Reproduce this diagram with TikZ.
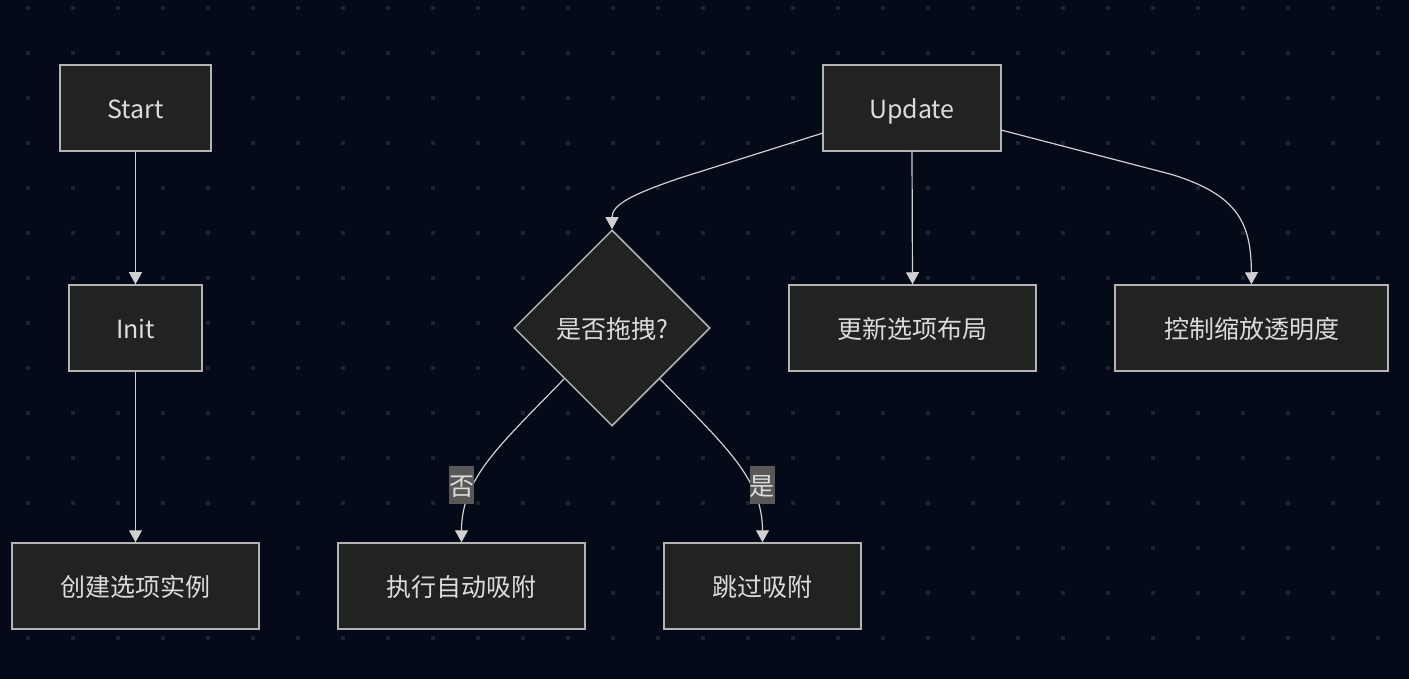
\documentclass[tikz,border=0pt]{standalone}
\usepackage{fontspec}
\setmainfont{Noto Sans CJK SC}
\usetikzlibrary{shapes.geometric,arrows.meta}
\definecolor{bgc}{HTML}{050A19}
\definecolor{dotc}{HTML}{1E2232}
\definecolor{boxfill}{HTML}{212222}
\definecolor{boxline}{HTML}{B4B4B4}
\definecolor{txt}{HTML}{DCDCDC}
\definecolor{edgec}{HTML}{D0D0D0}
\definecolor{lblfill}{HTML}{585858}
\tikzset{
  box/.style={draw=boxline, line width=1.5pt, fill=boxfill, text=txt, inner sep=0pt,
    minimum height=86pt, text height=25pt, text depth=4pt, font=\fontsize{25}{30}\selectfont},
  decision/.style={diamond, aspect=1, draw=boxline, line width=1.5pt, fill=boxfill, text=txt,
    inner sep=0pt, minimum width=196pt, minimum height=196pt, text height=25pt, text depth=4pt,
    font=\fontsize{25}{30}\selectfont},
  conn/.style={draw=edgec, line width=1.2pt, -{Triangle[width=13pt,length=12pt]}},
  elabel/.style={fill=lblfill, text=txt, inner sep=0pt, minimum width=25pt, minimum height=38pt,
    text height=25pt, text depth=4pt, font=\fontsize{25}{30}\selectfont}
}
\begin{document}
\begin{tikzpicture}[x=1pt,y=-1pt]
\fill[bgc] (0,0) rectangle (1409,679);
\useasboundingbox (0,0) rectangle (1409,679);
\foreach \i in {0,...,30} {
  \foreach \j in {0,...,15} {
    \fill[dotc] ({28+45*\i-2},{8+45*\j-2}) rectangle ++(4,4);
  }
}
% nodes
\node[box, minimum width=151pt] (start) at (135.5,108) {Start};
\node[box, minimum width=133pt] (init) at (135.5,328) {Init};
\node[box, minimum width=247pt] (create) at (135.5,586) {创建选项实例};
\node[box, minimum width=178pt] (update) at (912,108) {Update};
\node[decision] (drag) at (612,328) {是否拖拽?};
\node[box, minimum width=247pt] (layout) at (912.5,328) {更新选项布局};
\node[box, minimum width=273pt] (ctrl) at (1251.5,328) {控制缩放透明度};
\node[box, minimum width=247pt] (snap) at (461.5,586) {执行自动吸附};
\node[box, minimum width=197pt] (skip) at (762.5,586) {跳过吸附};
% connectors
\coordinate (ua) at (823,133);
\coordinate (ub) at (1001,130);
\coordinate (dl) at (564,379);
\coordinate (dr) at (660,379);
\draw[conn] (start.south) -- (init.north);
\draw[conn] (init.south) -- (create.north);
\draw[conn] (update.south) -- (layout.north);
\draw[conn] (ua) -- (680,178) .. controls (630,195) and (612,205) .. (drag.north);
\draw[conn] (ub) -- (1170,174) .. controls (1240,195) and (1251,225) .. (ctrl.north);
\draw[conn] (dl) .. controls (500,445) and (461.5,478) .. (snap.north);
\draw[conn] (dr) .. controls (724,445) and (762.5,478) .. (skip.north);
\node[elabel] (no) at (461.5,485) {否};
\node[elabel] (yes) at (762,485) {是};
\end{tikzpicture}
\end{document}
